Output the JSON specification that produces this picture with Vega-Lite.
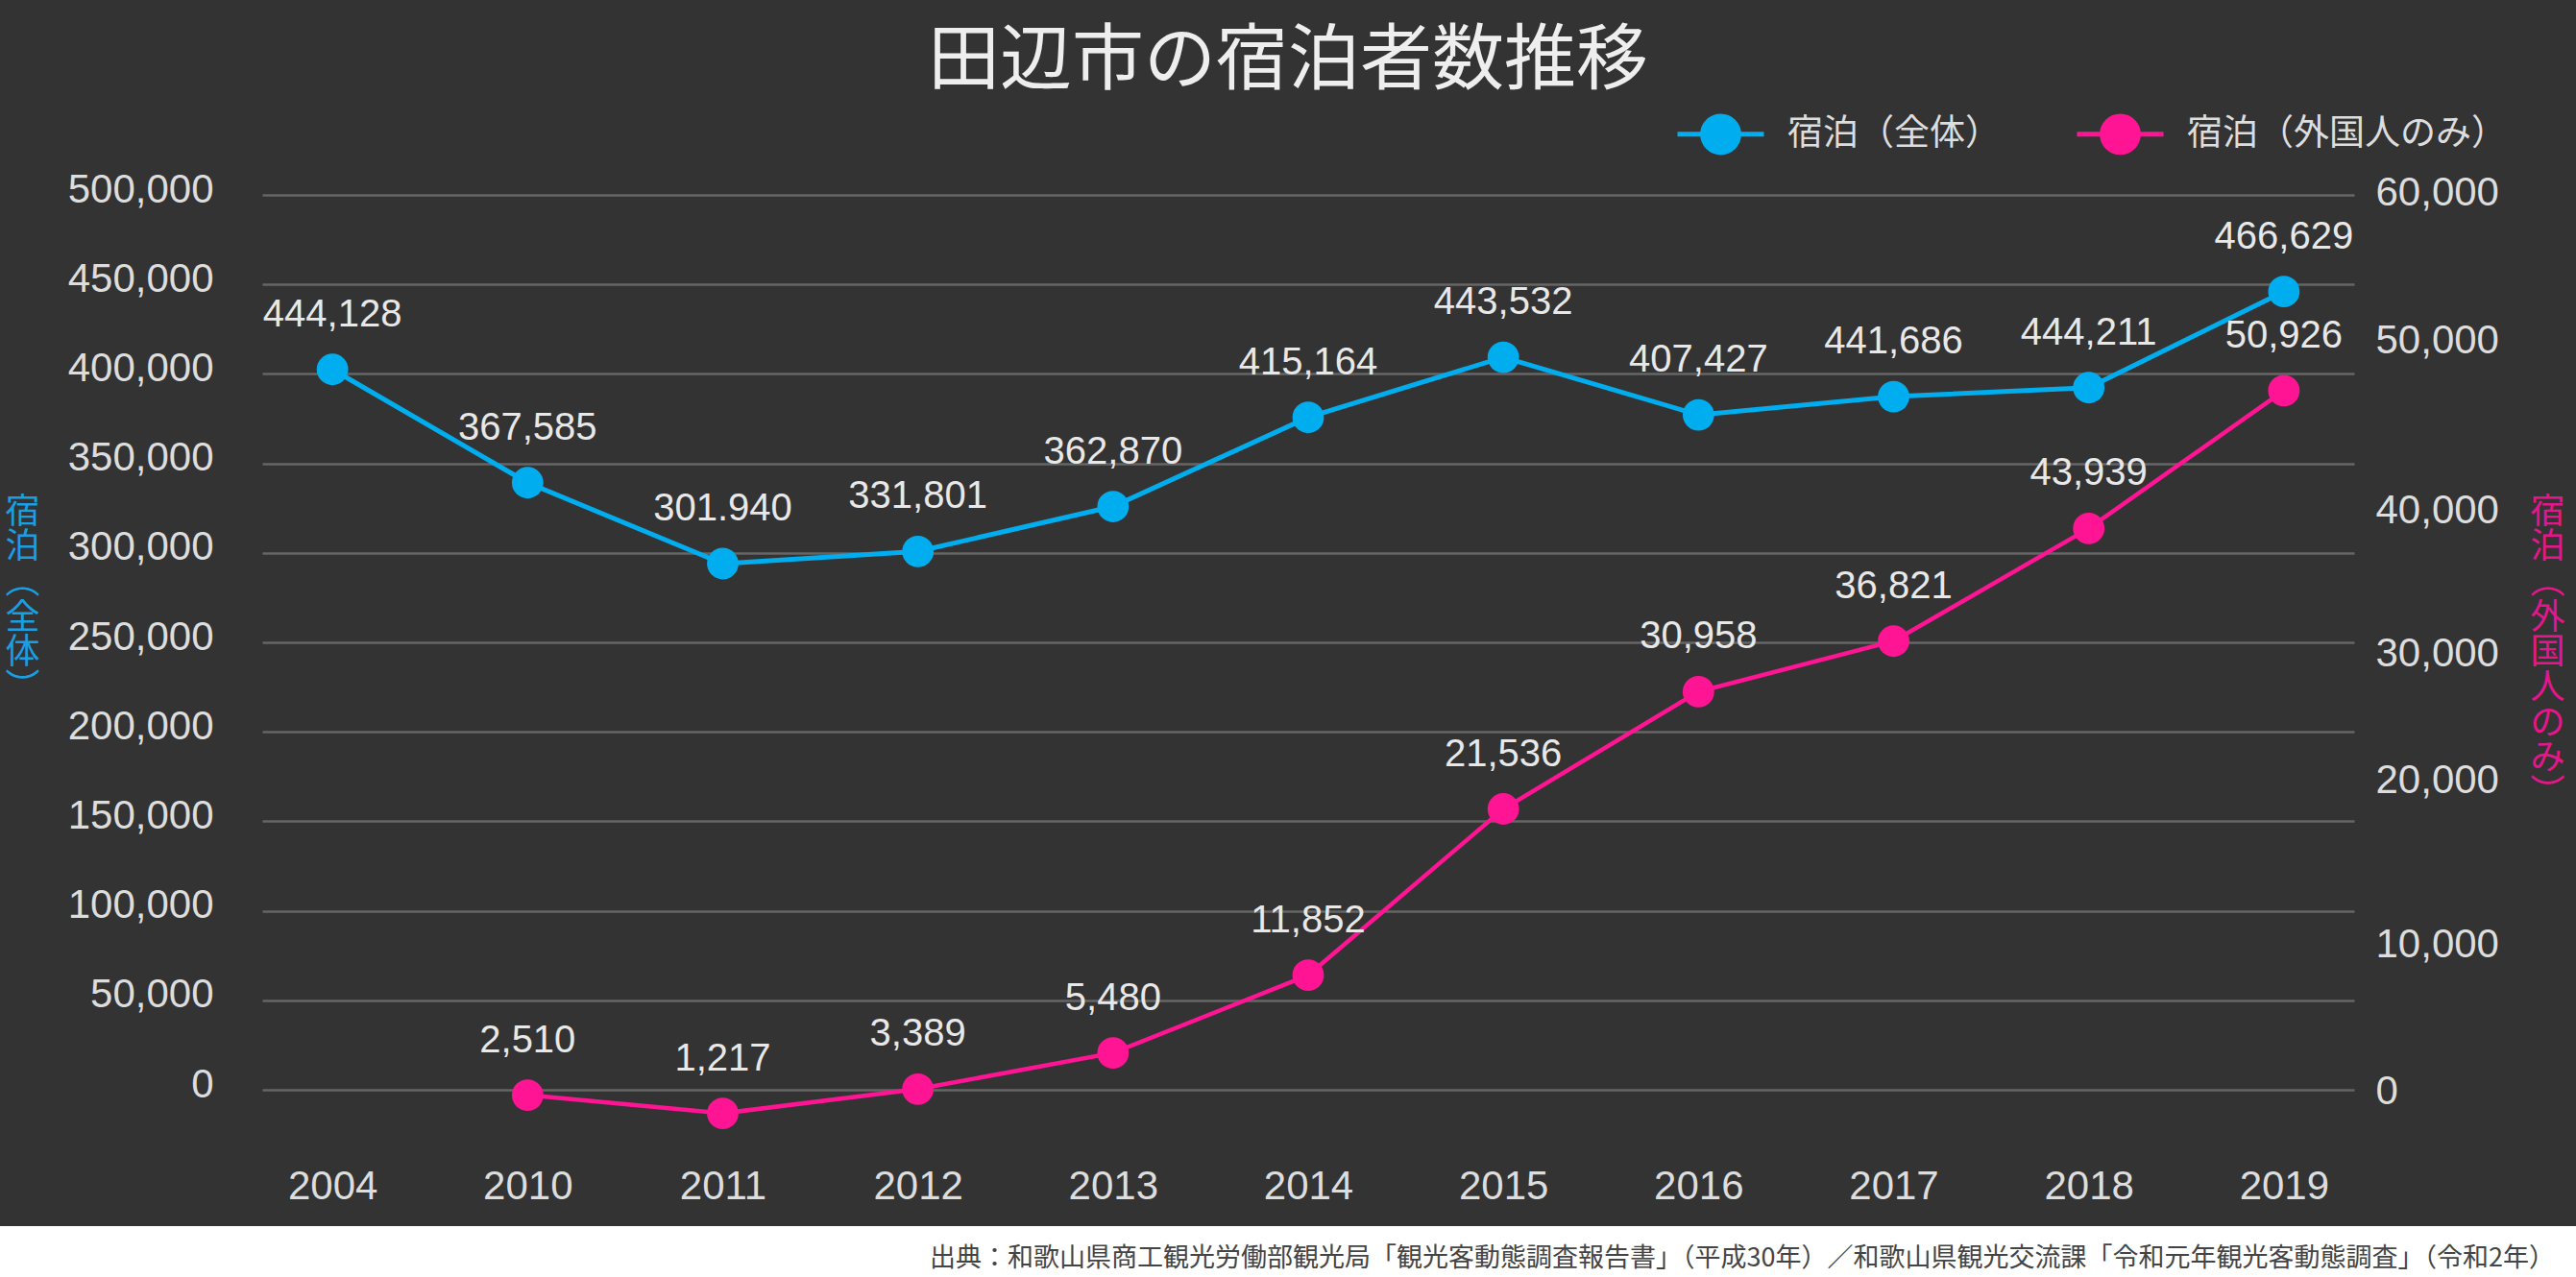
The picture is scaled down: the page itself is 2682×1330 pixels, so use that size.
{
  "$schema": "https://vega.github.io/schema/vega-lite/v6.json",
  "background": "#333333",
  "padding": {"top": 27, "left": 0, "right": 0, "bottom": 0},
  "config": {"view": {"stroke": null}, "font": "Liberation Sans"},
  "title": {
    "text": "田辺市の宿泊者数推移",
    "font": "Noto Sans CJK JP",
    "fontSize": 75,
    "fontWeight": "normal",
    "color": "#eeeeee",
    "anchor": "middle",
    "offset": -11
  },
  "spacing": 21,
  "vconcat": [
    {
      "width": 2682,
      "height": 932,
      "data": {
        "values": [
          {"year": "2004", "series": "宿泊（全体）", "value": 402500, "label": "444,128"},
          {"year": "2010", "series": "宿泊（全体）", "value": 339200, "label": "367,585"},
          {"year": "2011", "series": "宿泊（全体）", "value": 294000, "label": "301.940"},
          {"year": "2012", "series": "宿泊（全体）", "value": 300800, "label": "331,801"},
          {"year": "2013", "series": "宿泊（全体）", "value": 325900, "label": "362,870"},
          {"year": "2014", "series": "宿泊（全体）", "value": 375700, "label": "415,164"},
          {"year": "2015", "series": "宿泊（全体）", "value": 409300, "label": "443,532"},
          {"year": "2016", "series": "宿泊（全体）", "value": 377100, "label": "407,427"},
          {"year": "2017", "series": "宿泊（全体）", "value": 387300, "label": "441,686"},
          {"year": "2018", "series": "宿泊（全体）", "value": 392300, "label": "444,211"},
          {"year": "2019", "series": "宿泊（全体）", "value": 446000, "label": "466,629"},
          {"year": "2010", "series": "宿泊（外国人のみ）", "value": -360, "label": "2,510"},
          {"year": "2011", "series": "宿泊（外国人のみ）", "value": -1580, "label": "1,217"},
          {"year": "2012", "series": "宿泊（外国人のみ）", "value": 45, "label": "3,389"},
          {"year": "2013", "series": "宿泊（外国人のみ）", "value": 2470, "label": "5,480"},
          {"year": "2014", "series": "宿泊（外国人のみ）", "value": 7680, "label": "11,852"},
          {"year": "2015", "series": "宿泊（外国人のみ）", "value": 18830, "label": "21,536"},
          {"year": "2016", "series": "宿泊（外国人のみ）", "value": 26690, "label": "30,958"},
          {"year": "2017", "series": "宿泊（外国人のみ）", "value": 30080, "label": "36,821"},
          {"year": "2018", "series": "宿泊（外国人のみ）", "value": 37640, "label": "43,939"},
          {"year": "2019", "series": "宿泊（外国人のみ）", "value": 46870, "label": "50,926"}
        ]
      },
      "encoding": {
        "x": {
          "field": "year",
          "type": "ordinal",
          "scale": {"type": "point", "padding": 0.36, "range": [273, 2451], "domain": ["2004","2010","2011","2012","2013","2014","2015","2016","2017","2018","2019"]},
          "axis": {
            "title": null, "domain": false, "ticks": false, "grid": false,
            "labelAngle": 0, "labelFontSize": 42, "labelColor": "#dddddd", "labelPadding": 80
          }
        },
        "color": {
          "field": "series",
          "type": "nominal",
          "scale": {"domain": ["宿泊（全体）", "宿泊（外国人のみ）"], "range": ["#00AEEF", "#FF1493"]},
          "legend": {
            "title": null,
            "orient": "none",
            "direction": "horizontal",
            "legendX": 1744,
            "legendY": -111,
            "padding": 0,
            "columnPadding": 69,
            "labelOffset": 22,
            "labelFont": "Noto Sans CJK JP",
            "labelFontSize": 37,
            "labelColor": "#dddddd",
            "labelLimit": 0,
            "symbolType": "M-1,0H1M0.42,0A0.42,0.42,0,1,1,-0.42,0A0.42,0.42,0,1,1,0.42,0",
            "symbolSize": 8100,
            "symbolStrokeWidth": 5,
            "symbolOpacity": 1,
            "encode": {
              "symbols": {
                "update": {
                  "fill": {"scale": "color", "field": "value"},
                  "stroke": {"scale": "color", "field": "value"},
                  "strokeWidth": {"value": 5},
                  "opacity": {"value": 1}
                }
              }
            }
          }
        }
      },
      "layer": [
        {
          "transform": [{"filter": "datum.series === '宿泊（全体）'"}],
          "encoding": {
            "y": {
              "field": "value",
              "type": "quantitative",
              "scale": {"domain": [0, 500000], "nice": false, "zero": false},
              "axis": {
                "orient": "left",
                "offset": -273,
                "values": [0, 50000, 100000, 150000, 200000, 250000, 300000, 350000, 400000, 450000, 500000],
                "format": ",d",
                "grid": true, "gridColor": "#666666", "gridWidth": 2.5,
                "domain": false, "ticks": false,
                "labelFontSize": 42, "labelColor": "#dddddd", "labelPadding": 51, "labelOffset": -6,
                "title": ["宿", "泊", "︵", "全", "体", "︶"],
                "titleColor": "#1a9fe3",
                "titleFont": "Noto Sans CJK JP",
                "titleFontSize": 36,
                "titleFontWeight": "normal",
                "titleAngle": 0,
                "titleAlign": "center",
                "titleBaseline": "middle",
                "titleLineHeight": 36.7,
                "titleX": -250,
                "titleY": 330
              }
            }
          },
          "layer": [
            {"mark": {"type": "line", "strokeWidth": 5}, "encoding": {}},
            {"mark": {"type": "point", "filled": true, "size": 1075, "opacity": 1}},
            {
              "mark": {"type": "text", "dy": -57, "fontSize": 40, "baseline": "middle", "align": "center"},
              "encoding": {"text": {"field": "label"}, "color": {"value": "#e8e8e8"}}
            }
          ]
        },
        {
          "transform": [{"filter": "datum.series === '宿泊（外国人のみ）'"}],
          "encoding": {
            "y": {
              "field": "value",
              "type": "quantitative",
              "scale": {"domain": [0, 60000], "nice": false, "zero": false},
              "axis": {
                "orient": "right",
                "offset": -231,
                "values": [0, 10000, 20000, 30000, 40000, 50000, 60000],
                "format": ",d",
                "grid": false, "domain": false, "ticks": false,
                "labelFontSize": 42, "labelColor": "#dddddd", "labelPadding": 22,
                "labelOffset": {
                  "condition": [
                    {"test": "datum.value === 60000", "value": -3},
                    {"test": "datum.value === 50000", "value": -4},
                    {"test": "datum.value === 40000", "value": 18},
                    {"test": "datum.value === 30000", "value": 11},
                    {"test": "datum.value === 20000", "value": -12},
                    {"test": "datum.value === 10000", "value": 4}
                  ],
                  "value": 1
                },
                "title": ["宿", "泊", "︵", "外", "国", "人", "の", "み", "︶"],
                "titleColor": "#e5168c",
                "titleFont": "Noto Sans CJK JP",
                "titleFontSize": 36,
                "titleFontWeight": "normal",
                "titleAngle": 0,
                "titleAlign": "center",
                "titleBaseline": "middle",
                "titleLineHeight": 36.7,
                "titleX": 201,
                "titleY": 330
              }
            }
          },
          "layer": [
            {"mark": {"type": "line", "strokeWidth": 4.5}, "encoding": {}},
            {"mark": {"type": "point", "filled": true, "size": 1075, "opacity": 1}},
            {
              "mark": {"type": "text", "dy": -57, "fontSize": 40, "baseline": "middle", "align": "center"},
              "encoding": {"text": {"field": "label"}, "color": {"value": "#e8e8e8"}}
            }
          ]
        }
      ],
      "resolve": {"scale": {"y": "independent"}}
    },
    {
      "width": 2682,
      "height": 56,
      "view": {"fill": "#ffffff", "stroke": null},
      "data": {"values": [{"note": "出典：和歌山県商工観光労働部観光局「観光客動態調査報告書」（平成30年）／和歌山県観光交流課「令和元年観光客動態調査」（令和2年）"}]},
      "mark": {"type": "text", "x": "width", "dx": -22, "dy": 6, "align": "right", "baseline": "middle", "font": "Noto Sans CJK JP", "fontSize": 27, "color": "#444444"},
      "encoding": {"text": {"field": "note"}}
    }
  ]
}
